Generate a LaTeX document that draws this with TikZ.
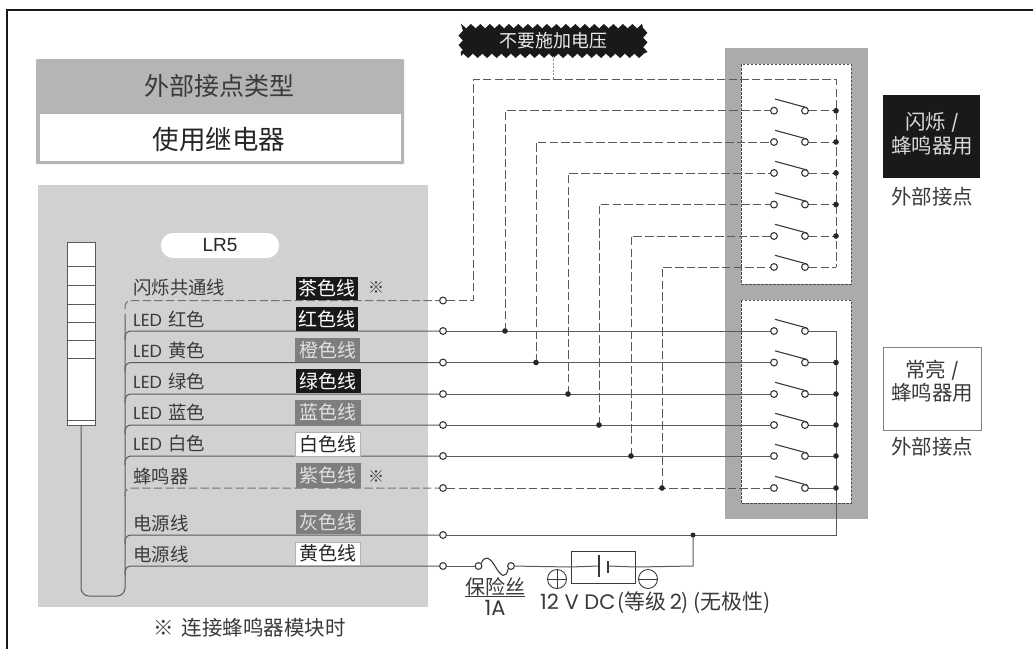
\documentclass[tikz,border=0pt]{standalone}
\usepackage{fontspec}
\setmainfont{Poppins}
\newfontfamily\cj{Noto Sans CJK SC}
\newfontfamily\ar{Liberation Sans}
\usetikzlibrary{decorations.pathmorphing}
\newcommand{\fs}[1]{\fontsize{#1}{#1}\selectfont}
\newcommand{\led}{{\fontspec{Poppins}\fs{17.5}LED}\hspace{.35em}}
\newcommand{\slashmark}{{\fontspec{Poppins}\fs{17}/}}
\definecolor{ink}{HTML}{3A3A3A}
\definecolor{wirec}{HTML}{5A5A5A}
\definecolor{panel}{HTML}{D2D1D1}
\definecolor{hdr}{HTML}{B5B5B5}
\definecolor{bankgray}{HTML}{ABABAB}
\definecolor{midtag}{HTML}{7E7E7E}
\tikzset{
  wire/.style={draw=wirec,line width=1pt},
  dwire/.style={draw=wirec,line width=1pt,dash pattern=on 8.5pt off 3.2pt},
  contact/.style={circle,draw=ink,fill=white,line width=1.1pt,inner sep=0pt,minimum size=6.8pt},
  dotj/.style={circle,fill=black!85,inner sep=0pt,minimum size=5.6pt},
  blade/.style={draw=ink,line width=1.1pt},
  lab/.style={anchor=west,inner sep=0pt,text=ink,font=\cj\fs{18.4}},
  txt/.style={inner sep=0pt,text=ink,font=\cj\fs{20.5}},
  tagdark/.style={fill=black!90,inner sep=0pt,text=white,font=\cj\fs{19}},
  tagmid/.style={fill=midtag,inner sep=0pt,text=black!12,font=\cj\fs{19}},
  tagwhite/.style={fill=white,draw=black!30,line width=.5pt,inner sep=0pt,text=black!85,font=\cj\fs{19}},
  inner box/.style={fill=white,draw=black!70,line width=.8pt,dash pattern=on 2.5pt off 1.5pt},
}
\begin{document}
\begin{tikzpicture}[x=1pt,y=-1pt]
\useasboundingbox (0,0) rectangle (1033,649);
\fill[white] (0,0) rectangle (1033,649);
% outer frame
\coordinate (fa) at (6.5,649); \coordinate (fb) at (6.5,10); \coordinate (fc) at (1033,10);
\draw[black!90,line width=2pt] (fa) -- (fb) -- (fc);
% header
\fill[hdr,rounded corners=1pt] (36,59) rectangle (404,164);
\fill[white] (40,113.5) rectangle (401,161);
\node[inner sep=0pt,text=ink,font=\cj\fs{25}] (h1) at (219,86) {外部接点类型};
\node[inner sep=0pt,text=black!85,font=\cj\fs{26.5}] (h2) at (219,139) {使用继电器};
% left panel
\fill[panel] (38,185) rectangle (428,607);
\node[fill=white,rounded corners=12pt,minimum width=118pt,minimum height=25pt,inner sep=0pt,font=\ar\fs{19},text=black!85] (lr) at (220,245.5) {LR5};
% stack light
\draw[fill=white,draw=wirec,line width=1pt] (67,242) rectangle (95,425);
\foreach \y in {266,285,304,322,340,358,420}{\draw[wirec,line width=.8pt] (67,\y) -- (95,\y);}
\coordinate (cab) at (81,425); \coordinate (cabb) at (81,596); \coordinate (cabc) at (125,596); \coordinate (cabd) at (125,314);
\draw[wire,rounded corners=8pt] (cab) -- (cabb) -- (cabc) -- (cabd);
% switch banks
\fill[bankgray] (725,48) rectangle (868,519);
\draw[inner box] (741,64) rectangle (851,284);
\draw[inner box] (741,300) rectangle (851,503);
% left terminals
\foreach \n/\y in {0/300.5,1/331,2/362.5,3/394,4/425,5/456,6/488,7/535,8/566}{
  \node[contact] (L\n) at (443,\y) {};
}
% upper switches
\foreach \n/\y in {1/110.7,2/142,3/173,4/204.5,5/236,6/267}{
  \node[contact] (UA\n) at (774,\y) {};
  \node[contact] (UB\n) at (805,\y) {};
  \coordinate (UC\n) at (836,\y);
  \draw[blade] (775,\y-11.7) -- (807,\y-3);
}
% lower switches
\foreach \n/\y in {1/331,2/362.5,3/394,4/425,5/456,6/488}{
  \node[contact] (DA\n) at (774,\y) {};
  \node[contact] (DB\n) at (805,\y) {};
  \coordinate (DC\n) at (836,\y);
  \draw[blade] (775,\y-11.7) -- (807,\y-3);
}
% junction coordinates on the lower wires
\foreach \n/\x/\y in {1/505/331,2/536/362.5,3/568/394,4/599/425,5/631/456,6/662/488}{
  \coordinate (J\n) at (\x,\y);
}
% harness branches
\foreach \n/\y in {1/331,2/362.5,3/394,4/425,5/456,7/535,8/566}{
  \draw[wire,rounded corners=6pt] (125,\y+9) -- (125,\y) -- (L\n);
}
\draw[dwire,draw=wirec!85,rounded corners=6pt] (125,309) -- (125,300.5) -- (L0);
\draw[dwire,draw=wirec!85,rounded corners=6pt] (125,497) -- (125,488) -- (L6);
% wires to lower switches
\foreach \n in {1,2,3,4,5}{
  \draw[wire] (L\n) -- (DA\n);
  \draw[dwire] (J\n) |- (UA\n);
  \draw[wire] (DB\n) -- (DC\n);
}
\draw[dwire] (L6) -- (DA6);
\draw[dwire] (J6) |- (UA6);
\draw[wire] (DB6) -- (DC6);
% upper bus
\foreach \n in {1,2,3,4,5,6}{\draw[dwire] (UB\n) -- (UC\n);}
\coordinate (ca) at (473,300.5); \coordinate (cb) at (473,79); \coordinate (cc) at (836,79);
\draw[dwire] (L0) -- (ca) -- (cb) -- (cc) -- (UC6);
% lower bus and supply
\coordinate (pa) at (836,331); \coordinate (pb) at (836,535); \coordinate (pj) at (693,535);
\draw[wire] (DB1) -- (pa) -- (pb) -- (L7);
% fuse
\node[contact] (F1) at (478.5,566) {};
\node[contact] (F2) at (511,566) {};
\draw[wire] (L8) -- (F1);
\draw[blade] (F1.north east) .. controls (484,556) and (489,556) .. (495,566) .. controls (501,577) and (506,579) .. (F2.south west);
% battery
\node[draw=ink,line width=1pt,fill=white,minimum width=64pt,minimum height=32pt,inner sep=0pt] (bat) at (603,567) {};
\coordinate (p1) at (599,566); \coordinate (p2) at (608,566); \coordinate (pk) at (693,566);
\draw[wire] (F2) -- (bat.west);
\draw[wire] (bat.west) -- (p1);
\draw[wire] (p2) -- (bat.east);
\draw[wire] (bat.east) -- (pk) -- (pj);
\draw[blade] (599,555) -- (599,577);
\draw[blade] (608,561) -- (608,573);
\node[circle,draw=ink,line width=.9pt,minimum size=19pt,inner sep=0pt] (plus) at (557,579) {};
\draw[ink,line width=.9pt] (plus.west) -- (plus.east) (plus.north) -- (plus.south);
\node[circle,draw=ink,line width=.9pt,minimum size=19pt,inner sep=0pt] (minus) at (648,579) {};
\draw[ink,line width=.9pt] (minus.west) -- (minus.east);
% dots
\foreach \n in {1,2,3,4,5,6}{\node[dotj] at (J\n) {};}
\foreach \n in {1,2,3,4,5}{\node[dotj] at (UC\n) {};}
\foreach \n in {2,3,4,5,6}{\node[dotj] at (DC\n) {};}
\node[dotj,minimum size=5pt] at (pj) {};
% badge
\node[fill=black!90,draw=black!90,decorate,decoration={zigzag,segment length=9.5pt,amplitude=2.2pt},minimum width=184pt,minimum height=29pt,inner sep=0pt,text=black!8,font=\cj\fs{18}] (badge) at (553,41) {不要施加电压};
\coordinate (bq) at (553,79);
\draw[black!45,line width=1pt,dash pattern=on 2pt off 1.5pt] (badge.south) -- (bq);
% labels
\node[lab] (t0) at (133,287) {闪烁共通线};
\node[lab] (t1) at (133,319) {\led 红色};
\node[lab] (t2) at (133,350) {\led 黄色};
\node[lab] (t3) at (133,381) {\led 绿色};
\node[lab] (t4) at (133,412) {\led 蓝色};
\node[lab] (t5) at (133,443) {\led 白色};
\node[lab] (t6) at (133,476) {蜂鸣器};
\node[lab] (t7) at (133,523) {电源线};
\node[lab] (t8) at (133,554) {电源线};
% tags
\node[tagdark,minimum width=62pt,minimum height=23pt] (c0) at (327,288.5) {茶色线};
\node[tagdark,minimum width=62pt,minimum height=24pt] (c1) at (327,319) {红色线};
\node[tagmid,minimum width=65pt,minimum height=24pt] (c2) at (327.5,350) {橙色线};
\node[tagdark,minimum width=65pt,minimum height=24pt] (c3) at (328,381) {绿色线};
\node[tagmid,minimum width=66pt,minimum height=25pt] (c4) at (328,412.5) {蓝色线};
\node[tagwhite,minimum width=65pt,minimum height=24pt] (c5) at (328,444) {白色线};
\node[tagmid,minimum width=65pt,minimum height=25pt] (c6) at (328,475.5) {紫色线};
\node[tagmid,minimum width=65pt,minimum height=24pt] (c7) at (328,522) {灰色线};
\node[tagwhite,minimum width=65pt,minimum height=23pt] (c8) at (328,553.5) {黄色线};
\node[inner sep=0pt,text=ink,font=\cj\fs{16}] (m0) at (376,288) {※};
\node[inner sep=0pt,text=ink,font=\cj\fs{16}] (m1) at (376,477) {※};
\node[txt] (note) at (249.5,628) {※\hspace{.4em}连接蜂鸣器模块时};
% right legends
\node[fill=black!90,minimum width=97pt,minimum height=83pt,inner sep=0pt] (k1) at (931.5,136.5) {};
\node[inner sep=0pt,text=black!15,font=\cj\fs{20.5}] (k1a) at (932,122) {闪烁 \slashmark};
\node[inner sep=0pt,text=black!15,font=\cj\fs{20.5}] (k1b) at (932,146) {蜂鸣器用};
\node[txt] (k1t) at (932,197) {外部接点};
\node[fill=white,draw=black!50,line width=1pt,minimum width=98pt,minimum height=83pt,inner sep=0pt] (k2) at (932,388.5) {};
\node[inner sep=0pt,text=ink,font=\cj\fs{20.5}] (k2a) at (932,370.5) {常亮 \slashmark};
\node[inner sep=0pt,text=ink,font=\cj\fs{20.5}] (k2b) at (932,393) {蜂鸣器用};
\node[txt] (k2t) at (932,447) {外部接点};
% supply labels
\node[inner sep=0pt,text=ink,font=\cj\fs{20}] (fu) at (495,587) {保险丝};
\coordinate (ua) at (465,596.5); \coordinate (ub) at (525,596.5);
\draw[ink,line width=.7pt] (ua) -- (ub);
\node[inner sep=0pt,text=ink,font=\fs{21}] (fa1) at (495,608) {1A};
\node[inner sep=0pt,text=ink,font=\fs{21},anchor=west] (dc) at (540,603) {12 V DC{\cj\fs{21}\hspace{.1em}(等级\hspace{.15em}}2{\cj\fs{21})\hspace{.2em}(无极性)}};
\end{tikzpicture}
\end{document}
